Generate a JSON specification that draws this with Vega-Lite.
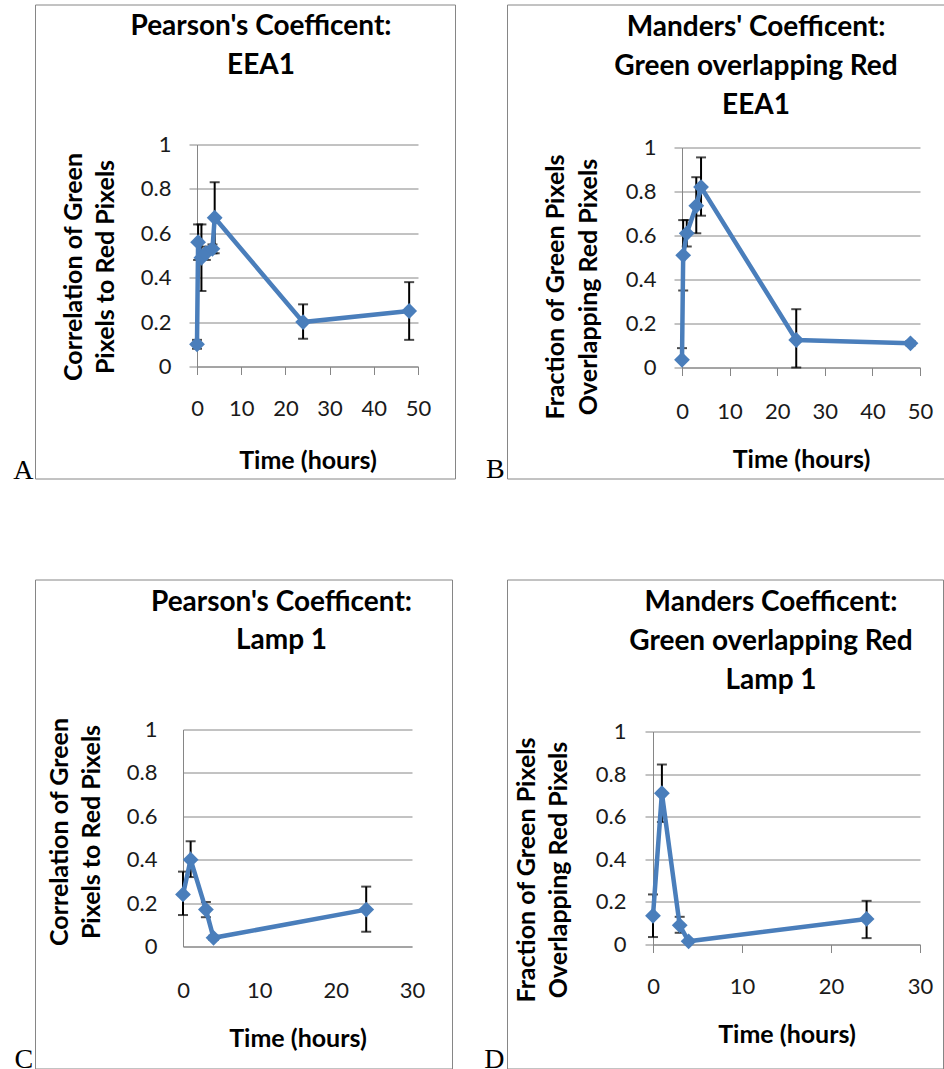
{
  "$schema": "https://vega.github.io/schema/vega-lite/v6.json",
  "background": "white",
  "padding": {"left": 12, "top": 3.5, "right": 0, "bottom": 0},
  "config": {
    "view": {"stroke": "#868686", "strokeWidth": 1},
    "font": "Lato",
    "axis": {
      "domainColor": "#868686", "tickColor": "#868686", "gridColor": "#868686",
      "gridWidth": 1, "domainWidth": 1, "tickWidth": 1,
      "labelFont": "Lato", "labelFontSize": 22, "labelColor": "#1a1a1a",
      "titleFont": "Lato", "titleFontSize": 25, "titleFontWeight": "bold", "titleColor": "#000",
      "labelFlush": false, "labelOverlap": false
    }
  },
  "data": {"values": [
    {"panel": "A", "t": 0, "v": 0.10, "lo": 0.08, "hi": 0.12},
    {"panel": "A", "t": 0.25, "v": 0.56, "lo": 0.48, "hi": 0.64},
    {"panel": "A", "t": 1, "v": 0.49, "lo": 0.34, "hi": 0.64},
    {"panel": "A", "t": 2, "v": 0.51, "lo": 0.48, "hi": 0.54},
    {"panel": "A", "t": 3.5, "v": 0.53, "lo": 0.51, "hi": 0.55},
    {"panel": "A", "t": 4, "v": 0.67, "lo": 0.51, "hi": 0.83},
    {"panel": "A", "t": 24, "v": 0.20, "lo": 0.125, "hi": 0.28},
    {"panel": "A", "t": 48, "v": 0.25, "lo": 0.12, "hi": 0.38},
    {"panel": "B", "t": 0, "v": 0.035, "lo": 0.03, "hi": 0.088},
    {"panel": "B", "t": 0.25, "v": 0.51, "lo": 0.35, "hi": 0.67},
    {"panel": "B", "t": 1, "v": 0.61, "lo": 0.55, "hi": 0.67},
    {"panel": "B", "t": 3, "v": 0.735, "lo": 0.61, "hi": 0.865},
    {"panel": "B", "t": 4, "v": 0.82, "lo": 0.69, "hi": 0.955},
    {"panel": "B", "t": 24, "v": 0.125, "lo": 0.0, "hi": 0.265},
    {"panel": "B", "t": 48, "v": 0.11, "lo": 0.10, "hi": 0.12},
    {"panel": "C", "t": 0, "v": 0.24, "lo": 0.145, "hi": 0.345},
    {"panel": "C", "t": 1, "v": 0.40, "lo": 0.32, "hi": 0.485},
    {"panel": "C", "t": 3, "v": 0.17, "lo": 0.135, "hi": 0.205},
    {"panel": "C", "t": 4, "v": 0.04, "lo": 0.03, "hi": 0.05},
    {"panel": "C", "t": 24, "v": 0.17, "lo": 0.068, "hi": 0.276},
    {"panel": "D", "t": 0, "v": 0.135, "lo": 0.035, "hi": 0.235},
    {"panel": "D", "t": 1, "v": 0.71, "lo": 0.575, "hi": 0.845},
    {"panel": "D", "t": 3, "v": 0.09, "lo": 0.055, "hi": 0.13},
    {"panel": "D", "t": 4, "v": 0.015, "lo": 0.01, "hi": 0.02},
    {"panel": "D", "t": 24, "v": 0.12, "lo": 0.03, "hi": 0.205}
  ]},
  "columns": 2,
  "spacing": {"row": 101, "column": 52},
  "bounds": "flush",
  "align": "each",
  "concat": [
    {
      "width": 420, "height": 474,
      "title": {"text": ["Pearson's Coefficent:", "EEA1"], "anchor": "middle", "frame": "group", "orient": "top", "offset": -34, "dy": 63, "baseline": "alphabetic", "lineHeight": 39, "dx": 16, "font": "Lato", "fontSize": 28, "fontWeight": "bold", "color": "#000"},
      "transform": [{"filter": "datum.panel === 'A'"}],
      "resolve": {"axis": {"y": "independent"}},
      "layer": [
        {
          "encoding": {"x": {"field": "t", "type": "quantitative", "scale": {"domain": [0, 50], "range": [162, 383], "nice": false, "zero": false},
            "axis": {"orient": "bottom", "offset": -112, "values": [0, 10, 20, 30, 40, 50], "format": "d", "grid": false, "ticks": true, "tickSize": 8, "labelPadding": 24, "title": "Time (hours)", "titlePadding": 29}}},
          "layer": [
            {"mark": {"type": "errorbar", "thickness": 2, "color": "black", "ticks": {"size": 10, "color": "black"}, "rule": {"color": "black"}},
             "encoding": {"y": {"field": "lo", "type": "quantitative", "scale": {"domain": [0, 1], "range": [362, 140], "nice": false, "zero": false},
               "axis": {"orient": "left", "offset": -162, "values": [0, 0.2, 0.4, 0.6, 0.8, 1], "format": "~g", "grid": true, "ticks": true, "tickSize": 8, "labelPadding": 18, "title": ["Correlation of Green", "Pixels to Red Pixels"], "titleLineHeight": 32, "titleY": 262, "titlePadding": 22}},
               "y2": {"field": "hi"}}},
            {"mark": {"type": "line", "color": "#4a7ebb", "strokeWidth": 4.5},
             "encoding": {"y": {"field": "v", "type": "quantitative", "scale": {"domain": [0, 1], "range": [362, 140], "nice": false, "zero": false},
               "axis": {"orient": "left", "offset": -162, "values": [0, 0.2, 0.4, 0.6, 0.8, 1], "format": "~g", "grid": true, "ticks": true, "tickSize": 8, "labelPadding": 18, "title": ["Correlation of Green", "Pixels to Red Pixels"], "titleLineHeight": 32, "titleY": 262, "titlePadding": 22}}}},
            {"mark": {"type": "point", "shape": "diamond", "filled": true, "size": 250, "color": "#4a7ebb", "opacity": 1},
             "encoding": {"y": {"field": "v", "type": "quantitative", "scale": {"domain": [0, 1], "range": [362, 140], "nice": false, "zero": false},
               "axis": {"orient": "left", "offset": -162, "values": [0, 0.2, 0.4, 0.6, 0.8, 1], "format": "~g", "grid": true, "ticks": true, "tickSize": 8, "labelPadding": 18, "title": ["Correlation of Green", "Pixels to Red Pixels"], "titleLineHeight": 32, "titleY": 262, "titlePadding": 22}}}}
          ]
        },
        {
          "mark": {"type": "point", "opacity": 0},
          "encoding": {"y": {"field": "v", "type": "quantitative", "scale": {"domain": [0, 1], "range": [362, 140], "nice": false, "zero": false},
            "axis": {"orient": "left", "offset": 0, "title": "A", "titleAngle": 0, "titleAlign": "right", "titleBaseline": "alphabetic", "titleX": -2, "titleY": 474, "titleFont": "Liberation Serif", "titleFontSize": 28, "titleFontWeight": "normal", "titleColor": "#000", "labels": false, "ticks": false, "domain": false, "grid": false}}}
        }
      ]
    },
    {
      "width": 438, "height": 474,
      "title": {"text": ["Manders' Coefficent:", "Green overlapping Red", "EEA1"], "anchor": "middle", "frame": "group", "orient": "top", "offset": -34, "dy": 103, "baseline": "alphabetic", "lineHeight": 39, "dx": 30, "font": "Lato", "fontSize": 28, "fontWeight": "bold", "color": "#000"},
      "transform": [{"filter": "datum.panel === 'B'"}],
      "resolve": {"axis": {"y": "independent"}},
      "layer": [
        {
          "encoding": {"x": {"field": "t", "type": "quantitative", "scale": {"domain": [0, 50], "range": [175, 413], "nice": false, "zero": false},
            "axis": {"orient": "bottom", "offset": -111, "values": [0, 10, 20, 30, 40, 50], "format": "d", "grid": false, "ticks": true, "tickSize": 8, "labelPadding": 26, "title": "Time (hours)", "titlePadding": 25}}},
          "layer": [
            {"mark": {"type": "errorbar", "thickness": 2, "color": "black", "ticks": {"size": 10, "color": "black"}, "rule": {"color": "black"}},
             "encoding": {"y": {"field": "lo", "type": "quantitative", "scale": {"domain": [0, 1], "range": [363, 143], "nice": false, "zero": false},
               "axis": {"orient": "left", "offset": -175, "values": [0, 0.2, 0.4, 0.6, 0.8, 1], "format": "~g", "grid": true, "ticks": true, "tickSize": 8, "labelPadding": 18, "title": ["Fraction of Green Pixels", "Overlapping Red Pixels"], "titleLineHeight": 33, "titleY": 282, "titlePadding": 24}},
               "y2": {"field": "hi"}}},
            {"mark": {"type": "line", "color": "#4a7ebb", "strokeWidth": 4.5},
             "encoding": {"y": {"field": "v", "type": "quantitative", "scale": {"domain": [0, 1], "range": [363, 143], "nice": false, "zero": false},
               "axis": {"orient": "left", "offset": -175, "values": [0, 0.2, 0.4, 0.6, 0.8, 1], "format": "~g", "grid": true, "ticks": true, "tickSize": 8, "labelPadding": 18, "title": ["Fraction of Green Pixels", "Overlapping Red Pixels"], "titleLineHeight": 33, "titleY": 282, "titlePadding": 24}}}},
            {"mark": {"type": "point", "shape": "diamond", "filled": true, "size": 250, "color": "#4a7ebb", "opacity": 1},
             "encoding": {"y": {"field": "v", "type": "quantitative", "scale": {"domain": [0, 1], "range": [363, 143], "nice": false, "zero": false},
               "axis": {"orient": "left", "offset": -175, "values": [0, 0.2, 0.4, 0.6, 0.8, 1], "format": "~g", "grid": true, "ticks": true, "tickSize": 8, "labelPadding": 18, "title": ["Fraction of Green Pixels", "Overlapping Red Pixels"], "titleLineHeight": 33, "titleY": 282, "titlePadding": 24}}}}
          ]
        },
        {
          "mark": {"type": "point", "opacity": 0},
          "encoding": {"y": {"field": "v", "type": "quantitative", "scale": {"domain": [0, 1], "range": [363, 143], "nice": false, "zero": false},
            "axis": {"orient": "left", "offset": 0, "title": "B", "titleAngle": 0, "titleAlign": "right", "titleBaseline": "alphabetic", "titleX": -2.7, "titleY": 473, "titleFont": "Liberation Serif", "titleFontSize": 28, "titleFontWeight": "normal", "titleColor": "#000", "labels": false, "ticks": false, "domain": false, "grid": false}}}
        }
      ]
    },
    {
      "width": 417, "height": 489,
      "title": {"text": ["Pearson's Coefficent:", "Lamp 1"], "anchor": "middle", "frame": "group", "orient": "top", "offset": -34, "dy": 63, "baseline": "alphabetic", "lineHeight": 38, "dx": 38, "font": "Lato", "fontSize": 28, "fontWeight": "bold", "color": "#000"},
      "transform": [{"filter": "datum.panel === 'C'"}],
      "resolve": {"axis": {"y": "independent"}},
      "layer": [
        {
          "encoding": {"x": {"field": "t", "type": "quantitative", "scale": {"domain": [0, 30], "range": [148, 377], "nice": false, "zero": false},
            "axis": {"orient": "bottom", "offset": -122, "values": [0, 10, 20, 30], "format": "d", "grid": false, "ticks": false, "tickSize": 0, "labelPadding": 34, "title": "Time (hours)", "titlePadding": 25}}},
          "layer": [
            {"mark": {"type": "errorbar", "thickness": 2, "color": "black", "ticks": {"size": 10, "color": "black"}, "rule": {"color": "black"}},
             "encoding": {"y": {"field": "lo", "type": "quantitative", "scale": {"domain": [0, 1], "range": [367, 150], "nice": false, "zero": false},
               "axis": {"orient": "left", "offset": -148, "values": [0, 0.2, 0.4, 0.6, 0.8, 1], "format": "~g", "grid": true, "ticks": false, "tickSize": 0, "labelPadding": 26, "title": ["Correlation of Green", "Pixels to Red Pixels"], "titleLineHeight": 32, "titleY": 252, "titlePadding": 22}},
               "y2": {"field": "hi"}}},
            {"mark": {"type": "line", "color": "#4a7ebb", "strokeWidth": 4.5},
             "encoding": {"y": {"field": "v", "type": "quantitative", "scale": {"domain": [0, 1], "range": [367, 150], "nice": false, "zero": false},
               "axis": {"orient": "left", "offset": -148, "values": [0, 0.2, 0.4, 0.6, 0.8, 1], "format": "~g", "grid": true, "ticks": false, "tickSize": 0, "labelPadding": 26, "title": ["Correlation of Green", "Pixels to Red Pixels"], "titleLineHeight": 32, "titleY": 252, "titlePadding": 22}}}},
            {"mark": {"type": "point", "shape": "diamond", "filled": true, "size": 250, "color": "#4a7ebb", "opacity": 1},
             "encoding": {"y": {"field": "v", "type": "quantitative", "scale": {"domain": [0, 1], "range": [367, 150], "nice": false, "zero": false},
               "axis": {"orient": "left", "offset": -148, "values": [0, 0.2, 0.4, 0.6, 0.8, 1], "format": "~g", "grid": true, "ticks": false, "tickSize": 0, "labelPadding": 26, "title": ["Correlation of Green", "Pixels to Red Pixels"], "titleLineHeight": 32, "titleY": 252, "titlePadding": 22}}}}
          ]
        },
        {
          "mark": {"type": "point", "opacity": 0},
          "encoding": {"y": {"field": "v", "type": "quantitative", "scale": {"domain": [0, 1], "range": [367, 150], "nice": false, "zero": false},
            "axis": {"orient": "left", "offset": 0, "title": "C", "titleAngle": 0, "titleAlign": "right", "titleBaseline": "alphabetic", "titleX": -2.3, "titleY": 488, "titleFont": "Liberation Serif", "titleFontSize": 28, "titleFontWeight": "normal", "titleColor": "#000", "labels": false, "ticks": false, "domain": false, "grid": false}}}
        }
      ]
    },
    {
      "width": 436, "height": 489,
      "title": {"text": ["Manders Coefficent:", "Green overlapping Red", "Lamp 1"], "anchor": "middle", "frame": "group", "orient": "top", "offset": -34, "dy": 103, "baseline": "alphabetic", "lineHeight": 39, "dx": 46, "font": "Lato", "fontSize": 28, "fontWeight": "bold", "color": "#000"},
      "transform": [{"filter": "datum.panel === 'D'"}],
      "resolve": {"axis": {"y": "independent"}},
      "layer": [
        {
          "encoding": {"x": {"field": "t", "type": "quantitative", "scale": {"domain": [0, 30], "range": [146, 413], "nice": false, "zero": false},
            "axis": {"orient": "bottom", "offset": -124, "values": [0, 10, 20, 30], "format": "d", "grid": false, "ticks": true, "tickSize": 8, "labelPadding": 24, "title": "Time (hours)", "titlePadding": 25}}},
          "layer": [
            {"mark": {"type": "errorbar", "thickness": 2, "color": "black", "ticks": {"size": 10, "color": "black"}, "rule": {"color": "black"}},
             "encoding": {"y": {"field": "lo", "type": "quantitative", "scale": {"domain": [0, 1], "range": [365, 152], "nice": false, "zero": false},
               "axis": {"orient": "left", "offset": -146, "values": [0, 0.2, 0.4, 0.6, 0.8, 1], "format": "~g", "grid": true, "ticks": true, "tickSize": 8, "labelPadding": 19, "title": ["Fraction of Green Pixels", "Overlapping Red Pixels"], "titleLineHeight": 32, "titleY": 290, "titlePadding": 24}},
               "y2": {"field": "hi"}}},
            {"mark": {"type": "line", "color": "#4a7ebb", "strokeWidth": 4.5},
             "encoding": {"y": {"field": "v", "type": "quantitative", "scale": {"domain": [0, 1], "range": [365, 152], "nice": false, "zero": false},
               "axis": {"orient": "left", "offset": -146, "values": [0, 0.2, 0.4, 0.6, 0.8, 1], "format": "~g", "grid": true, "ticks": true, "tickSize": 8, "labelPadding": 19, "title": ["Fraction of Green Pixels", "Overlapping Red Pixels"], "titleLineHeight": 32, "titleY": 290, "titlePadding": 24}}}},
            {"mark": {"type": "point", "shape": "diamond", "filled": true, "size": 250, "color": "#4a7ebb", "opacity": 1},
             "encoding": {"y": {"field": "v", "type": "quantitative", "scale": {"domain": [0, 1], "range": [365, 152], "nice": false, "zero": false},
               "axis": {"orient": "left", "offset": -146, "values": [0, 0.2, 0.4, 0.6, 0.8, 1], "format": "~g", "grid": true, "ticks": true, "tickSize": 8, "labelPadding": 19, "title": ["Fraction of Green Pixels", "Overlapping Red Pixels"], "titleLineHeight": 32, "titleY": 290, "titlePadding": 24}}}}
          ]
        },
        {
          "mark": {"type": "point", "opacity": 0},
          "encoding": {"y": {"field": "v", "type": "quantitative", "scale": {"domain": [0, 1], "range": [365, 152], "nice": false, "zero": false},
            "axis": {"orient": "left", "offset": 0, "title": "D", "titleAngle": 0, "titleAlign": "right", "titleBaseline": "alphabetic", "titleX": -3, "titleY": 488, "titleFont": "Liberation Serif", "titleFontSize": 28, "titleFontWeight": "normal", "titleColor": "#000", "labels": false, "ticks": false, "domain": false, "grid": false}}}
        }
      ]
    }
  ]
}
